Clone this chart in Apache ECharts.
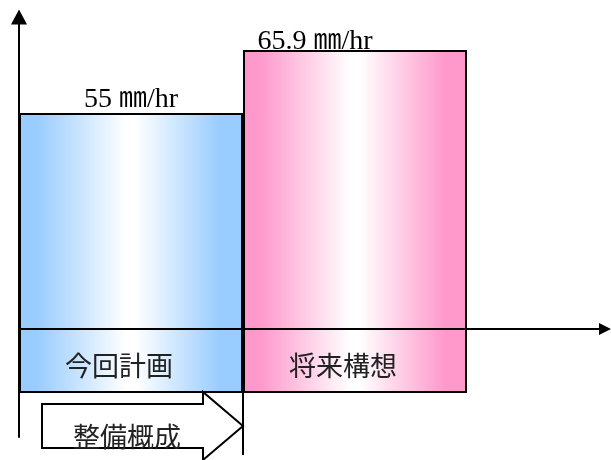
<!DOCTYPE html>
<html>
<head>
<meta charset="utf-8">
<script src="https://cdn.jsdelivr.net/npm/echarts@6/dist/echarts.min.js"></script>
<style>
  html, body { margin: 0; padding: 0; background: #fff; }
  #main { width: 611px; height: 460px; }
</style>
</head>
<body>
<div id="main"></div>
<script>
// Design rainfall intensity: current plan vs. long-term concept
const categories = ['今回計画', '将来構想'];
const rainfall = [55, 65.9];
const unit = '㎜/hr';
const arrowLabel = '整備概成';
const barColors = ['#99CCFF', '#FF99CC'];

// Horizontal "cylinder" sheen: solid edges fading smoothly to white in the middle
function sheen(c) {
  return {
    type: 'linear', x: 0, y: 0, x2: 1, y2: 0,
    colorStops: [
      { offset: 0, color: c },
      { offset: 0.08, color: c },
      { offset: 0.48, color: '#ffffff' },
      { offset: 0.52, color: '#ffffff' },
      { offset: 0.9, color: c },
      { offset: 1, color: c }
    ]
  };
}

const serif = "'Liberation Serif', 'Noto Sans CJK JP', serif";
const gothic = "'Noto Sans CJK JP', sans-serif";

const chart = echarts.init(document.getElementById('main'), null, { renderer: 'canvas' });

chart.setOption({
  animation: false,
  backgroundColor: '#ffffff',
  grid: [
    { left: 19, top: 12, width: 448, bottom: 68 },
    { left: 19, right: 6, top: 17, bottom: 23 }
  ],
  xAxis: [
    {
      type: 'category', gridIndex: 0, data: categories, z: 6,
      axisLine: { show: false }, axisTick: { show: false },
      axisLabel: {
        inside: true, margin: 26, verticalAlign: 'middle',
        padding: [0, 24, 0, 0],
        fontSize: 27, fontFamily: gothic, color: '#222'
      }
    },
    {
      type: 'value', gridIndex: 1, min: 0, max: 1, z: 5,
      axisLine: {
        show: true, onZero: true,
        symbol: ['none', 'triangle'], symbolSize: [12, 12],
        lineStyle: { color: '#000', width: 2 }
      },
      axisTick: { show: false }, axisLabel: { show: false }, splitLine: { show: false }
    }
  ],
  yAxis: [
    { type: 'value', gridIndex: 0, min: 6.745, max: 72.47, show: false },
    {
      type: 'value', gridIndex: 1, min: -108, max: 312, z: 5,
      axisLine: {
        show: true, onZero: true,
        symbol: ['none', 'triangle'], symbolSize: [16, 15],
        lineStyle: { color: '#000', width: 2 }
      },
      axisTick: { show: false }, axisLabel: { show: false }, splitLine: { show: false }
    }
  ],
  series: [
    {
      type: 'bar', xAxisIndex: 0, yAxisIndex: 0,
      barCategoryGap: '0%', clip: true,
      itemStyle: { borderColor: '#000', borderWidth: 2 },
      label: {
        show: true, position: 'top', distance: 0,
        formatter: p => p.value + ' ' + unit,
        color: '#000', fontSize: 28, fontFamily: serif
      },
      data: rainfall.map((v, i) => ({
        value: v,
        itemStyle: { color: sheen(barColors[i]) },
        label: { offset: i === 1 ? [-40, 6] : [0, 1] }
      }))
    }
  ],
  graphic: [
    {
      type: 'line', z: 10,
      shape: { x1: 243, y1: 392, x2: 243, y2: 455 },
      style: { stroke: '#000', lineWidth: 2 }
    },
    {
      type: 'polygon', z: 10,
      shape: { points: [[42, 404], [203, 404], [203, 392], [243, 426], [203, 460], [203, 448], [42, 448]] },
      style: { fill: '#fff', stroke: '#000', lineWidth: 2 }
    },
    {
      type: 'text', z: 11, x: 127, y: 437,
      style: {
        text: arrowLabel, fontSize: 27, fontFamily: gothic, fill: '#222',
        align: 'center', verticalAlign: 'middle'
      }
    }
  ]
});
</script>
</body>
</html>
